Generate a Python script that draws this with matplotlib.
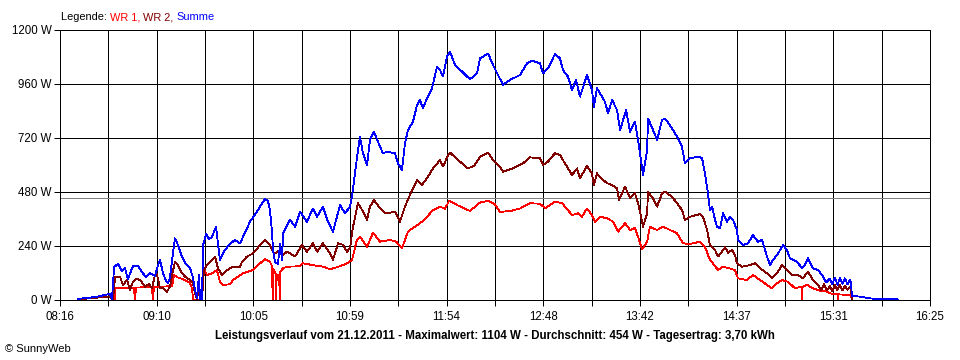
import matplotlib
matplotlib.use("Agg")
import matplotlib.pyplot as plt
import numpy as np
from matplotlib.ticker import FixedLocator, NullFormatter

plt.rcParams['font.family'] = ['Liberation Sans', 'DejaVu Sans']

# ---- data (time in minutes after midnight, power in W) ----
x_tick_labels = ["08:16", "09:10", "10:05", "10:59", "11:54", "12:48", "13:42", "14:37", "15:31", "16:25"]
y_ticks = [0, 240, 480, 720, 960, 1200]
t_start, t_end = 496, 985
mean_w = 454

sum_t = [506.1, 515.7, 521.3, 524.1, 525.2, 526.4, 528.6, 530.8, 532.5, 534.2, 537.0, 539.8, 542.1, 544.3,
         546.6, 549.4, 551.1, 552.2, 553.9, 555.6, 556.7, 557.8, 559.0, 560.6, 562.3, 564.6, 566.8, 569.1,
         570.8, 571.9, 573.0, 574.1, 574.7, 575.8, 576.4, 578.1, 579.7, 581.4, 583.7, 585.9, 588.7, 591.6,
         594.4, 597.2, 600.0, 602.8, 607.3, 609.6, 611.2, 612.9, 614.0, 615.2, 615.7, 616.8, 618.5, 619.7,
         620.8, 621.4, 625.3, 628.1, 630.9, 634.8, 638.2, 640.5, 643.8, 646.6, 649.4, 653.4, 656.2, 659.0,
         660.1, 661.8, 663.5, 664.6, 666.3, 668.6, 670.2, 672.5, 674.7, 677.5, 679.8, 684.3, 686.0, 688.2,
         689.9, 691.6, 694.4, 696.7, 698.3, 700.0, 702.3, 705.1, 707.9, 709.6, 711.3, 713.5, 715.2, 718.0,
         722.0, 726.4, 730.4, 732.1, 736.6, 739.4, 742.2, 745.0, 748.9, 754.6, 758.5, 761.3, 765.8, 767.5,
         770.3, 774.2, 777.0, 778.7, 781.5, 783.8, 786.0, 788.3, 792.2, 795.0, 796.1, 797.8, 799.5, 802.3,
         804.0, 806.3, 809.1, 810.8, 814.2, 816.4, 819.2, 820.9, 822.0, 823.7, 826.0, 826.5, 829.3, 831.6,
         834.4, 836.1, 840.0, 842.8, 845.6, 847.3, 850.1, 854.6, 856.9, 858.5, 860.2, 861.3, 862.5, 864.2,
         865.3, 867.0, 868.7, 870.9, 872.6, 874.3, 876.5, 877.1, 879.9, 882.7, 885.5, 888.3, 890.6, 893.4,
         895.1, 896.8, 899.6, 902.4, 904.6, 906.3, 910.2, 913.1, 914.7, 916.4, 919.2, 922.1, 924.9, 926.5,
         928.8, 930.0, 931.6, 933.0, 934.4, 935.8, 937.2, 938.6, 940.0, 940.6, 941.1, 945.7, 951.3, 956.9,
         966.5, 967.0]
sum_w = [5, 13, 22, 27, 4, 147, 160, 129, 142, 93, 151, 151, 124, 102,
         120, 107, 155, 178, 120, 84, 76, 98, 178, 274, 244, 191, 160, 142,
         98, 44, 9, 111, 0, 0, 244, 293, 270, 281, 324, 178, 222, 250,
         267, 252, 300, 348, 400, 430, 448, 440, 400, 300, 222, 170, 160, 250,
         178, 298, 356, 326, 392, 348, 407, 370, 415, 348, 303, 422, 385, 415,
         459, 563, 667, 726, 652, 600, 711, 748, 704, 652, 659, 652, 607, 578,
         696, 756, 793, 867, 889, 852, 896, 941, 1037, 1022, 993, 1081, 1104, 1044,
         1015, 981, 1007, 1074, 1096, 1044, 1000, 956, 978, 1000, 1052, 1064, 1052, 1007,
         1030, 1093, 1074, 1022, 993, 933, 978, 904, 1000, 933, 859, 941, 919, 881,
         830, 889, 844, 756, 844, 748, 793, 711, 652, 556, 667, 807, 756, 711,
         800, 807, 763, 726, 681, 607, 630, 637, 630, 563, 474, 400, 415, 356,
         326, 319, 385, 348, 370, 356, 311, 267, 244, 252, 289, 259, 267, 193,
         156, 178, 207, 244, 222, 185, 170, 141, 156, 185, 141, 133, 104, 78,
         95, 70, 100, 68, 98, 72, 96, 70, 90, 80, 18, 15, 7, 4,
         4, 0]

wr2_t = [506.1, 524.1, 525.2, 525.8, 527.0, 528.0, 529.7, 531.4, 533.7, 535.3, 537.0, 539.3, 541.5, 543.8,
         546.0, 547.7, 549.4, 550.5, 552.2, 553.9, 556.1, 557.8, 559.0, 560.6, 562.3, 564.6, 566.3, 569.1,
         570.8, 571.9, 573.0, 574.1, 574.7, 575.8, 576.9, 578.6, 581.4, 583.1, 584.8, 587.1, 589.9, 593.2,
         597.2, 598.3, 601.1, 604.5, 608.4, 611.2, 614.0, 615.7, 616.8, 619.7, 621.4, 623.6, 628.1, 632.0,
         634.8, 638.2, 640.5, 643.8, 647.8, 649.4, 652.3, 655.1, 657.3, 659.0, 660.7, 663.5, 665.8, 668.6,
         670.2, 672.5, 675.9, 678.7, 684.3, 687.1, 689.9, 692.7, 696.7, 699.5, 702.8, 705.7, 709.6, 711.3,
         714.1, 715.2, 720.8, 725.3, 728.7, 732.1, 736.6, 739.4, 742.2, 743.3, 745.0, 750.6, 756.2, 760.2,
         765.8, 767.5, 770.3, 774.2, 777.0, 779.8, 783.8, 786.6, 788.3, 792.2, 795.0, 796.1, 797.8, 799.5,
         803.5, 806.3, 809.1, 810.2, 813.6, 816.4, 819.2, 820.9, 822.0, 823.7, 826.0, 826.5, 829.3, 831.6,
         834.4, 836.1, 840.0, 842.8, 845.6, 847.3, 850.1, 855.7, 857.4, 859.7, 861.3, 864.2, 865.9, 868.1,
         869.8, 871.5, 873.8, 875.4, 876.5, 879.3, 883.8, 886.6, 889.4, 893.4, 896.2, 899.0, 901.8, 904.6,
         907.4, 910.8, 913.6, 916.4, 919.2, 922.1, 923.8, 925.5, 927.1, 928.8, 930.0, 931.6, 933.0, 934.4,
         935.8, 937.2, 938.6, 940.0, 940.6, 941.1]
wr2_w = [3, 16, 2, 0, 104, 104, 104, 67, 89, 44, 81, 96, 85, 59,
         70, 52, 111, 115, 52, 55, 37, 60, 110, 170, 155, 119, 104, 89,
         74, 30, 5, 60, 0, 0, 133, 156, 178, 193, 141, 111, 133, 148,
         148, 170, 193, 207, 244, 267, 244, 215, 207, 222, 200, 215, 193, 244,
         215, 252, 215, 252, 207, 178, 252, 245, 215, 230, 326, 430, 400, 356,
         415, 444, 407, 385, 392, 348, 415, 467, 533, 511, 548, 585, 622, 593,
         644, 655, 615, 585, 596, 637, 655, 622, 600, 593, 570, 585, 607, 634,
         630, 600, 615, 652, 645, 607, 556, 585, 541, 596, 563, 511, 563, 545,
         519, 511, 496, 444, 504, 452, 474, 430, 392, 326, 385, 481, 452, 415,
         474, 481, 459, 430, 400, 356, 370, 382, 370, 311, 244, 222, 193, 215,
         234, 210, 222, 200, 163, 148, 155, 163, 141, 119, 96, 119, 156, 133,
         111, 111, 96, 126, 89, 67, 45, 70, 42, 62, 40, 66, 44, 68,
         42, 64, 45, 60, 52, 0]

wr1_t = [527.0, 527.2, 528.0, 537.0, 537.6, 538.1, 538.7, 547.7, 548.2, 548.8, 554.9, 559.0, 560.1, 562.3,
         566.3, 569.1, 570.2, 570.8, 575.8, 576.4, 578.6, 581.4, 584.2, 585.9, 587.6, 591.6, 593.2, 598.8,
         604.5, 608.4, 611.2, 614.0, 615.2, 615.5, 615.8, 617.2, 617.5, 617.8, 619.2, 619.5, 619.8, 621.4,
         623.6, 630.9, 632.6, 638.2, 643.8, 647.8, 653.4, 657.3, 660.1, 662.9, 664.6, 668.6, 671.9, 675.9,
         681.5, 684.9, 688.2, 691.6, 695.5, 699.5, 702.3, 705.7, 709.6, 712.4, 714.7, 719.2, 726.4, 732.1,
         736.6, 740.5, 743.3, 748.9, 754.6, 760.2, 765.8, 768.7, 774.2, 778.2, 783.8, 787.2, 789.4, 792.2,
         795.0, 796.7, 799.5, 803.5, 806.9, 809.7, 813.6, 816.4, 819.2, 821.5, 823.1, 826.0, 827.6, 831.6,
         835.0, 838.9, 842.8, 846.2, 850.1, 855.7, 858.5, 861.3, 863.0, 865.9, 868.7, 872.6, 875.4, 877.1,
         882.1, 885.5, 889.4, 893.4, 896.2, 899.0, 901.8, 905.2, 909.1, 912.8, 913.1, 913.4, 915.9, 919.2,
         923.2, 927.1, 930.5, 933.0, 933.3, 933.6, 940.0, 940.6, 941.1]
wr1_w = [0, 52, 55, 55, 55, 0, 55, 58, 0, 58, 60, 62, 111, 100,
         89, 75, 52, 0, 0, 148, 111, 119, 133, 81, 67, 70, 89, 119,
         133, 163, 181, 170, 150, 0, 140, 115, 0, 111, 111, 0, 125, 141,
         148, 150, 163, 155, 148, 137, 150, 163, 178, 267, 281, 237, 299, 259,
         267, 260, 230, 304, 326, 348, 370, 400, 415, 405, 441, 422, 396, 433,
         441, 425, 392, 395, 407, 430, 428, 407, 437, 430, 378, 385, 370, 407,
         378, 348, 370, 363, 348, 304, 341, 311, 320, 267, 225, 259, 326, 311,
         326, 311, 296, 252, 249, 259, 237, 178, 163, 133, 148, 140, 133, 96,
         89, 111, 89, 67, 52, 74, 89, 81, 52, 59, 0, 59, 67, 52,
         41, 37, 25, 25, 0, 25, 22, 22, 0]

# ---- figure ----
W, H = 960, 360
LW = 0.72  # one pixel at 100 dpi
fig = plt.figure(figsize=(W / 100, H / 100), dpi=100)
fig.patch.set_facecolor("white")
ax = fig.add_axes([60 / W, (H - 300) / H, 870 / W, 270 / H])
ax.set_xlim(t_start, t_end)
ax.set_ylim(0, 1200)

major_x = np.linspace(t_start, t_end, len(x_tick_labels))
all_x = np.linspace(t_start, t_end, 2 * (len(x_tick_labels) - 1) + 1)
minor_x = all_x[1::2]

for xv in all_x:
    ax.axvline(xv, color="black", lw=LW, zorder=1, antialiased=False)
for yv in y_ticks:
    ax.axhline(yv, color="black", lw=LW, zorder=1, antialiased=False)
ax.axhline(mean_w, color="#808080", lw=LW, zorder=1, antialiased=False)

ax.plot(wr1_t, wr1_w, color="#ff0000", lw=0.6, zorder=3, antialiased=False)
ax.plot(wr2_t, wr2_w, color="#800000", lw=0.6, zorder=3, antialiased=False)
ax.plot(sum_t, sum_w, color="#0000ff", lw=0.6, zorder=4, antialiased=False)

ax.xaxis.set_major_locator(FixedLocator(major_x))
ax.xaxis.set_minor_locator(FixedLocator(minor_x))
ax.set_xticklabels(x_tick_labels)
ax.xaxis.set_minor_formatter(NullFormatter())
ax.set_yticks(y_ticks)
ax.set_yticklabels([f"{v} W" for v in y_ticks])
ax.tick_params(axis="both", which="both", direction="out", length=4, width=LW,
               color="black", labelsize=8.3, pad=2)
ax.tick_params(axis="x", pad=4)
for s in ax.spines.values():
    s.set_color("black")
    s.set_linewidth(LW)

# title/footer
ax.text(0.5, -0.135, "Leistungsverlauf vom 21.12.2011 - Maximalwert: 1104 W - Durchschnitt: 454 W - Tagesertrag: 3,70 kWh",
        transform=ax.transAxes, ha="center", va="center", fontsize=8.3, fontweight="bold")
fig.text(5 / W, 1 - 349 / H, "© SunnyWeb", ha="left", va="center", fontsize=8)

# multi-coloured legend line
fig.canvas.draw()
renderer = fig.canvas.get_renderer()
parts = [("Legende: ", "black"), ("WR 1, ", "#ff0000"), ("WR 2, ", "#800000"), ("Summe", "#0000ff")]
xpix = 61
for txt, col in parts:
    t = fig.text(xpix / W, 1 - 17 / H, txt, color=col, fontsize=7.9, ha="left", va="center")
    bb = t.get_window_extent(renderer=renderer)
    xpix += bb.width

fig.savefig("out.png", dpi=100, facecolor="white")
